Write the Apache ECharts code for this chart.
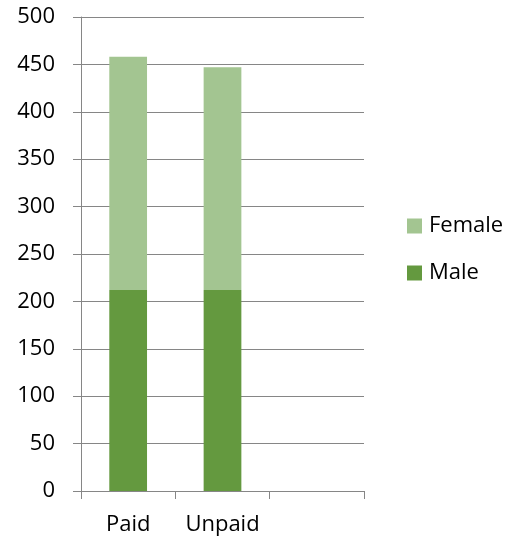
<!DOCTYPE html>
<html><head><meta charset="utf-8">
<script src="https://cdn.jsdelivr.net/npm/echarts@6/dist/echarts.min.js"></script>
<style>html,body{margin:0;padding:0;background:#fff}#c{width:524px;height:538px}</style>
</head><body><div id="c"></div>
<script>
var categories = ['Paid', 'Unpaid', ''];
var maleValues = [212, 212, null];
var femaleValues = [246, 235, null];
var yTicks = {min: 0, max: 500, interval: 50};

var font = '"Open Sans", "Liberation Sans", sans-serif';
var chart = echarts.init(document.getElementById('c'), null, {renderer: 'canvas'});
chart.setOption({
  animation: false,
  grid: {left: 81, right: 160, top: 17, bottom: 47},
  legend: {
    orient: 'vertical', left: 407, top: 215, padding: 0, itemWidth: 15, itemHeight: 15, itemGap: 25,
    icon: 'rect', data: ['Female', 'Male'],
    textStyle: {fontFamily: font, fontSize: 22, lineHeight: 22, color: '#000', padding: [0, 0, 0, 2]}
  },
  xAxis: {
    type: 'category', data: categories,
    axisLine: {lineStyle: {color: '#868686', width: 1}},
    axisTick: {show: true, interval: 0, length: 8, lineStyle: {color: '#868686'}},
    axisLabel: {interval: 0, hideOverlap: false, fontFamily: font, fontSize: 22, color: '#000', margin: 23}
  },
  yAxis: {
    type: 'value', min: yTicks.min, max: yTicks.max, interval: yTicks.interval,
    axisLine: {show: true, lineStyle: {color: '#868686', width: 1}},
    axisTick: {show: true, length: 8, lineStyle: {color: '#868686'}},
    splitLine: {lineStyle: {color: '#868686', width: 1}},
    axisLabel: {fontFamily: font, fontSize: 22, color: '#000', margin: 26}
  },
  series: [
    {name: 'Male', type: 'bar', stack: 's', data: maleValues, barWidth: '40%',
     itemStyle: {color: '#64993F'}},
    {name: 'Female', type: 'bar', stack: 's', data: femaleValues, barWidth: '40%',
     itemStyle: {color: '#A3C591'}}
  ]
});
</script></body></html>
